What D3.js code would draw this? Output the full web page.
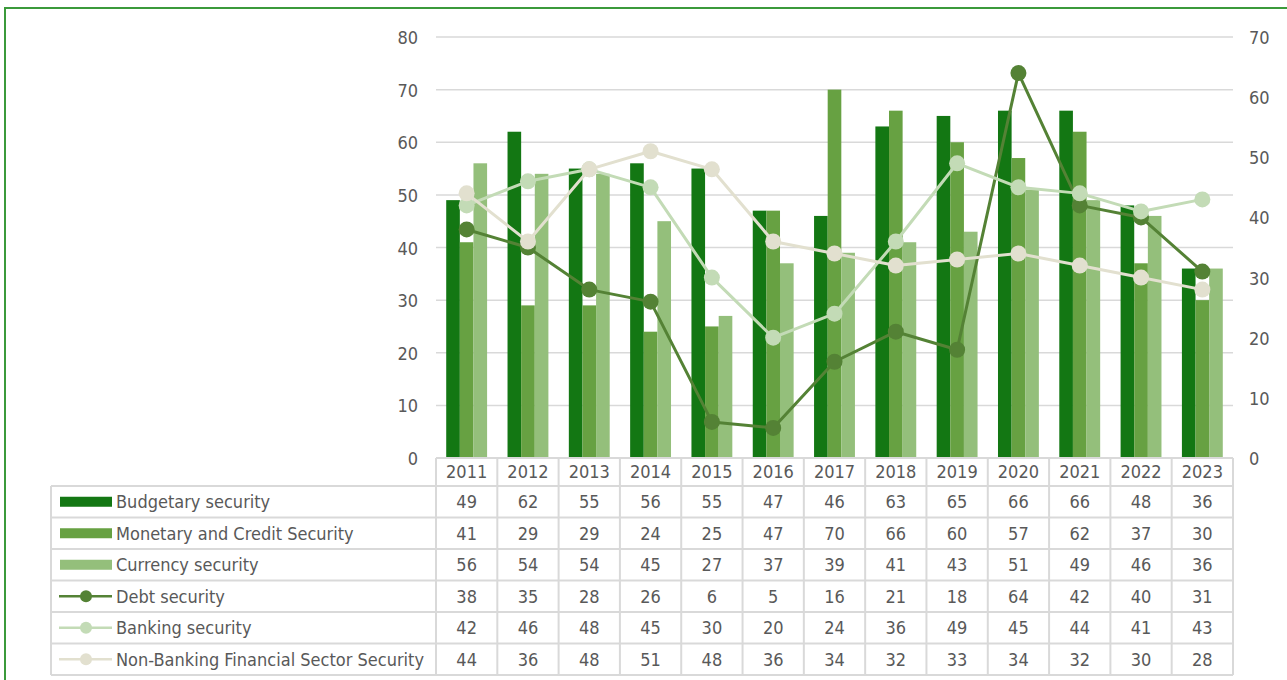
<!DOCTYPE html>
<html>
<head>
<meta charset="utf-8">
<script src="https://cdn.jsdelivr.net/npm/d3@7"></script>
<style>
  html, body { margin: 0; padding: 0; background: #fff; }
  svg { display: block; font-family: "DejaVu Sans Condensed", "Noto Sans", sans-serif; font-stretch: condensed; }
  .axis text { fill: #595959; font-size: 18px; }
  .tbl text { fill: #595959; font-size: 18px; }
</style>
</head>
<body>
<svg id="chart" width="1287" height="680"></svg>
<script>
// Years and indicator values
const years = ["2011","2012","2013","2014","2015","2016","2017","2018","2019","2020","2021","2022","2023"];

const budgetary = [49, 62, 55, 56, 55, 47, 46, 63, 65, 66, 66, 48, 36];
const monetary  = [41, 29, 29, 24, 25, 47, 70, 66, 60, 57, 62, 37, 30];
const currency  = [56, 54, 54, 45, 27, 37, 39, 41, 43, 51, 49, 46, 36];
const debt      = [38, 35, 28, 26, 6, 5, 16, 21, 18, 64, 42, 40, 31];
const banking   = [42, 46, 48, 45, 30, 20, 24, 36, 49, 45, 44, 41, 43];
const nonBanking= [44, 36, 48, 51, 48, 36, 34, 32, 33, 34, 32, 30, 28];

const leftTicks  = [0, 10, 20, 30, 40, 50, 60, 70, 80];
const rightTicks = [0, 10, 20, 30, 40, 50, 60, 70];

const barSeries = [
  { name: "Budgetary security", values: budgetary, color: "#137713" },
  { name: "Monetary and Credit Security", values: monetary, color: "#67a142" },
  { name: "Currency security", values: currency, color: "#94bf7b" }
];
const lineSeries = [
  { name: "Debt security", values: debt, color: "#548235" },
  { name: "Banking security", values: banking, color: "#c3dbb6" },
  { name: "Non-Banking Financial Sector Security", values: nonBanking, color: "#e2e0cf" }
];
const rows = [
  ...barSeries.map(s => ({ ...s, kind: "bar" })),
  ...lineSeries.map(s => ({ ...s, kind: "line" }))
];

const svg = d3.select("#chart");
const W = 1287, H = 680;
const plot = { left: 436, right: 1233, top: 37, bottom: 458 };
const tableLeft = 51;
const headerH = 28;
const rowH = 31.5;
const gridColor = "#d9d9d9";

svg.append("rect").attr("width", W).attr("height", H).attr("fill", "#fff");

// Outer frame
svg.append("rect")
  .attr("x", 5).attr("y", 8).attr("width", W + 10).attr("height", H + 10)
  .attr("fill", "none").attr("stroke", "#3b9a3b").attr("stroke-width", 2);

const x = d3.scaleBand().domain(years).range([plot.left, plot.right]).padding(0);
const yL = d3.scaleLinear().domain([0, 80]).range([plot.bottom, plot.top]);
const yR = d3.scaleLinear().domain([0, 70]).range([plot.bottom, plot.top]);

// Gridlines
svg.append("g").selectAll("line").data(leftTicks.filter(t => t > 0)).join("line")
  .attr("x1", plot.left).attr("x2", plot.right)
  .attr("y1", d => yL(d)).attr("y2", d => yL(d))
  .attr("stroke", gridColor).attr("stroke-width", 1.5);

// Axes
const axL = svg.append("g").attr("class", "axis")
  .attr("transform", `translate(${plot.left - 18},0)`)
  .call(d3.axisLeft(yL).tickValues(leftTicks).tickSize(0).tickPadding(0));
const axR = svg.append("g").attr("class", "axis")
  .attr("transform", `translate(${plot.right + 16},0)`)
  .call(d3.axisRight(yR).tickValues(rightTicks).tickSize(0).tickPadding(0));
[axL, axR].forEach(a => {
  a.select(".domain").remove();
  a.attr("font-size", null).attr("font-family", null);
  a.selectAll("text").attr("dy", null).attr("dominant-baseline", "central");
});

// Bars: gap width of 1.5 bar widths per category
const step = x.bandwidth();
const inner = d3.scaleBand().domain(d3.range(barSeries.length))
  .range([step * 0.75 / 4.5, step - step * 0.75 / 4.5]).padding(0);

const gBars = svg.append("g");
barSeries.forEach((s, si) => {
  gBars.append("g").selectAll("rect").data(s.values).join("rect")
    .attr("x", (d, i) => x(years[i]) + inner(si))
    .attr("width", inner.bandwidth())
    .attr("y", d => yL(d))
    .attr("height", d => yL(0) - yL(d))
    .attr("fill", s.color);
});

// Lines on the secondary axis
const cx = i => x(years[i]) + step / 2;
lineSeries.forEach(s => {
  const line = d3.line().x((d, i) => cx(i)).y(d => yR(d));
  svg.append("path").datum(s.values)
    .attr("d", line).attr("fill", "none")
    .attr("stroke", s.color).attr("stroke-width", 3).attr("stroke-linejoin", "round");
  svg.append("g").selectAll("circle").data(s.values).join("circle")
    .attr("cx", (d, i) => cx(i)).attr("cy", d => yR(d)).attr("r", 8)
    .attr("fill", s.color);
});

// Data table
const tbl = svg.append("g").attr("class", "tbl");
const tableTop = plot.bottom;
const rowsTop = tableTop + headerH;
const tableBottom = rowsTop + rowH * rows.length;

// Header row with years
tbl.append("g").selectAll("text").data(years).join("text")
  .attr("x", d => x(d) + step / 2).attr("y", tableTop + headerH / 2 - 1)
  .attr("text-anchor", "middle").attr("dominant-baseline", "central")
  .text(d => d);

// Value cells
rows.forEach((r, ri) => {
  const cy = rowsTop + rowH * ri + rowH / 2;
  tbl.append("g").selectAll("text").data(r.values).join("text")
    .attr("x", (d, i) => x(years[i]) + step / 2).attr("y", cy)
    .attr("text-anchor", "middle").attr("dominant-baseline", "central")
    .text(d => d);
  // legend key
  if (r.kind === "bar") {
    tbl.append("rect").attr("x", 60).attr("y", cy - 5).attr("width", 52).attr("height", 10)
      .attr("fill", r.color);
  } else {
    tbl.append("line").attr("x1", 59).attr("x2", 112).attr("y1", cy).attr("y2", cy)
      .attr("stroke", r.color).attr("stroke-width", 2.5);
    tbl.append("circle").attr("cx", 86).attr("cy", cy).attr("r", 6).attr("fill", r.color);
  }
  tbl.append("text").attr("x", 116).attr("y", cy)
    .attr("dominant-baseline", "central").text(r.name);
});

// Table borders
const borders = tbl.append("g").attr("stroke", gridColor).attr("stroke-width", 2).attr("fill", "none");
borders.append("line").attr("x1", plot.left).attr("x2", plot.right).attr("y1", tableTop).attr("y2", tableTop);
d3.range(rows.length + 1).forEach(k => {
  const yy = rowsTop + rowH * k;
  borders.append("line").attr("x1", tableLeft).attr("x2", plot.right).attr("y1", yy).attr("y2", yy);
});
borders.append("line").attr("x1", tableLeft).attr("x2", tableLeft).attr("y1", rowsTop).attr("y2", tableBottom);
years.forEach(yv => {
  borders.append("line").attr("x1", x(yv)).attr("x2", x(yv)).attr("y1", tableTop).attr("y2", tableBottom);
});
borders.append("line").attr("x1", plot.right).attr("x2", plot.right).attr("y1", tableTop).attr("y2", tableBottom);
</script>
</body>
</html>
